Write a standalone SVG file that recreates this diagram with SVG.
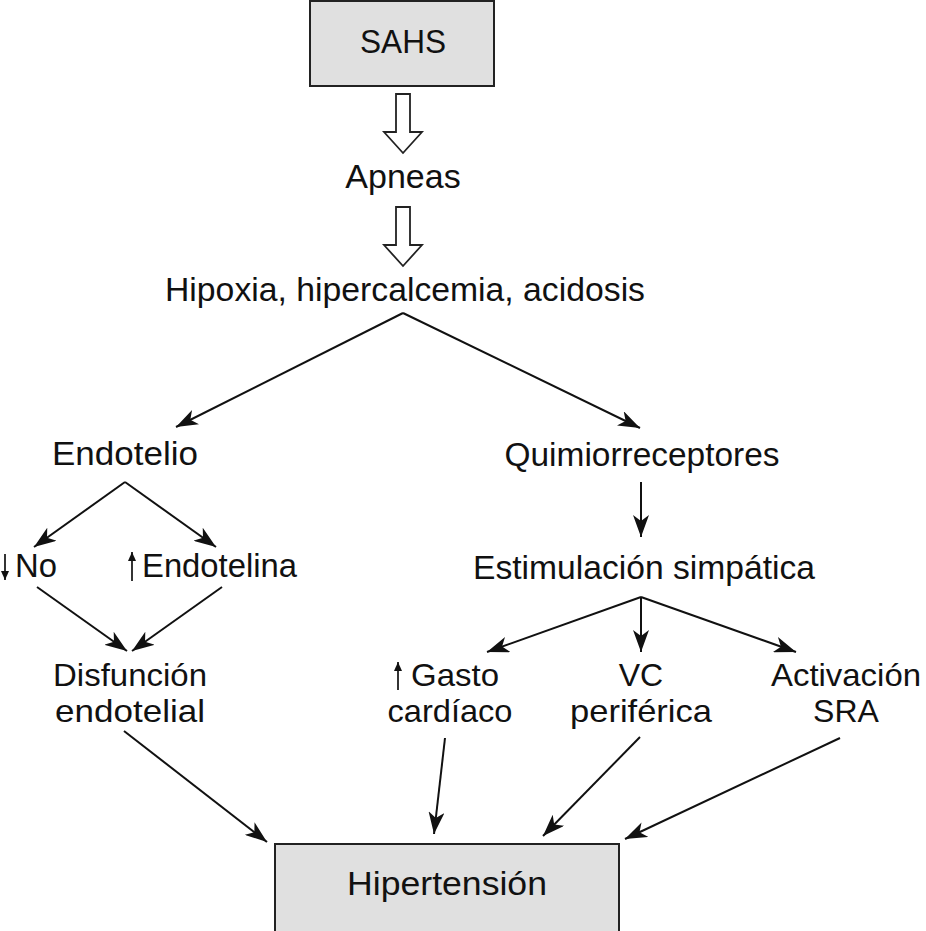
<svg xmlns="http://www.w3.org/2000/svg" width="926" height="931" viewBox="0 0 926 931">
<style>
text{font-family:"Liberation Sans",Arial,sans-serif;font-size:34px;fill:#111;text-anchor:middle}
.s{text-anchor:start}
.t{font-size:32px}
.box{fill:#e0e0e0;stroke:#222;stroke-width:2}
.c{stroke:#111;stroke-width:2;fill:none;marker-end:url(#ah)}
.hollow{fill:#fff;stroke:#222;stroke-width:1.8}
.sm{stroke:#111;stroke-width:1.7;fill:none;marker-end:url(#sh)}
</style>
<defs>
<marker id="ah" markerWidth="24" markerHeight="16" refX="22" refY="8" orient="auto" markerUnits="userSpaceOnUse">
<path d="M0,0 L22,8 L0,16 L6,8 Z" fill="#111"/>
</marker>
<marker id="sh" markerWidth="10" markerHeight="10" refX="9" refY="5" orient="auto" markerUnits="userSpaceOnUse">
<path d="M0,1 L9,5 L0,9 Z" fill="#111"/>
</marker>
</defs>
<rect width="926" height="931" fill="#fff"/>
<g id="sahs"><rect class="box" x="310" y="1" width="184" height="85"/><text x="403" y="53" font-size="38" textLength="86" lengthAdjust="spacingAndGlyphs">SAHS</text></g>
<g id="apneas"><text x="403" y="188">Apneas</text></g>
<g id="hipoxia"><text x="405" y="301" textLength="480" lengthAdjust="spacingAndGlyphs">Hipoxia, hipercalcemia, acidosis</text></g>
<g id="endotelio"><text x="125" y="465" textLength="146" lengthAdjust="spacingAndGlyphs">Endotelio</text></g>
<g id="quimio"><text x="642" y="466" textLength="275" lengthAdjust="spacingAndGlyphs">Quimiorreceptores</text></g>
<g id="no"><text class="s" x="15" y="577" textLength="42" lengthAdjust="spacingAndGlyphs">No</text><path class="sm" d="M5,554 V580"/></g>
<g id="endotelina"><text class="s" x="142" y="577" textLength="155" lengthAdjust="spacingAndGlyphs">Endotelina</text><path class="sm" d="M132,581 V552"/></g>
<g id="disfuncion"><text class="t" x="130" y="686" textLength="154" lengthAdjust="spacingAndGlyphs">Disfunción</text><text class="t" x="130" y="722" textLength="150" lengthAdjust="spacingAndGlyphs">endotelial</text></g>
<g id="estimulacion"><text x="644" y="579" textLength="342" lengthAdjust="spacingAndGlyphs">Estimulación simpática</text></g>
<g id="gasto"><text class="s t" x="411" y="686" textLength="88" lengthAdjust="spacingAndGlyphs">Gasto</text><text class="t" x="450" y="722" textLength="125" lengthAdjust="spacingAndGlyphs">cardíaco</text><path class="sm" d="M398,690 V662"/></g>
<g id="vc"><text class="t" x="641" y="686">VC</text><text class="t" x="641" y="722" textLength="142" lengthAdjust="spacingAndGlyphs">periférica</text></g>
<g id="sra"><text class="t" x="846" y="686" textLength="150" lengthAdjust="spacingAndGlyphs">Activación</text><text class="t" x="846" y="722">SRA</text></g>
<g id="hipertension"><rect class="box" x="275" y="844" width="344" height="90"/><text x="447" y="895" font-size="35" textLength="200" lengthAdjust="spacingAndGlyphs">Hipertensión</text></g>
<g id="connectors">
<path class="hollow" d="M396,94 H410 V132 H422 L403,153 L384,132 H396 Z"/>
<path class="hollow" d="M396,207 H410 V245 H422 L403,266 L384,245 H396 Z"/>
<path class="c" d="M403,313 L176,427"/>
<path class="c" d="M403,313 L640,428"/>
<path class="c" d="M125,482 L34,547"/>
<path class="c" d="M125,482 L216,547"/>
<path class="c" d="M641,482 L641,537"/>
<path class="c" d="M37,587 L127,651"/>
<path class="c" d="M222,587 L132,651"/>
<path class="c" d="M641,597 L487,652"/>
<path class="c" d="M641,597 L641,652"/>
<path class="c" d="M641,597 L796,652"/>
<path class="c" d="M124,731 L267,842"/>
<path class="c" d="M445,738 L434,834"/>
<path class="c" d="M640,737 L543,836"/>
<path class="c" d="M840,738 L625,839"/>
</g>
</svg>
